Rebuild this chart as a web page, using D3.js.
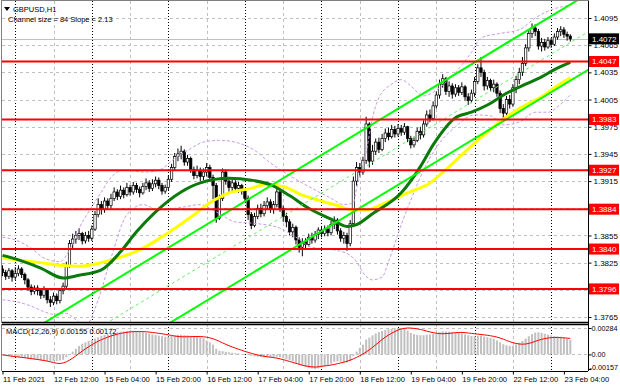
<!DOCTYPE html>
<html>
<head>
<meta charset="utf-8">
<script src="https://cdn.jsdelivr.net/npm/d3@7"></script>
<style>
  body { margin: 0; background: #fff; }
  svg { display: block; font-family: "Liberation Sans", Arial, sans-serif; }
</style>
</head>
<body>
<svg id="chart" width="620" height="388"></svg>
<script>
// GBPUSD H1, 11 Feb 20:00 .. 23 Feb 06:00, one value per bar
var symbol = 'GBPUSD,H1';
var firstOpen = 1.3818;
var closes = [
  1.3814,1.3810,1.3816,1.3809,1.3813,1.3818,1.3812,1.3806,1.3798,1.3793,
  1.3797,1.3794,1.3789,1.3795,1.3784,1.3781,1.3788,1.3783,1.3794,1.3799,
  1.3822,1.3846,1.3851,1.3855,1.3857,1.3849,1.3855,1.3852,1.3862,1.3878,
  1.3889,1.3884,1.3893,1.3888,1.3896,1.3903,1.3898,1.3905,1.3900,1.3908,
  1.3903,1.3910,1.3906,1.3902,1.3909,1.3913,1.3907,1.3912,1.3916,1.3910,
  1.3904,1.3908,1.3917,1.3930,1.3942,1.3945,1.3948,1.3936,1.3940,1.3928,
  1.3921,1.3927,1.3920,1.3925,1.3930,1.3919,1.3910,1.3874,1.3896,1.3925,
  1.3915,1.3908,1.3913,1.3907,1.3910,1.3904,1.3896,1.3878,1.3866,1.3876,
  1.3885,1.3879,1.3888,1.3892,1.3884,1.3889,1.3903,1.3885,1.3876,1.3870,
  1.3859,1.3864,1.3850,1.3842,1.3848,1.3845,1.3853,1.3850,1.3856,1.3861,
  1.3857,1.3862,1.3858,1.3867,1.3872,1.3860,1.3852,1.3855,1.3846,1.3868,
  1.3915,1.3930,1.3925,1.3938,1.3978,1.3937,1.3948,1.3958,1.3950,1.3962,
  1.3968,1.3964,1.3972,1.3967,1.3973,1.3969,1.3975,1.3962,1.3955,1.3960,
  1.3970,1.3966,1.3978,1.3988,1.3984,1.3998,1.4010,1.4022,1.4028,1.4014,
  1.4020,1.4011,1.4018,1.4013,1.4019,1.4008,1.4004,1.4012,1.4025,1.4040,
  1.4035,1.4020,1.4026,1.4018,1.4022,1.4012,1.3995,1.3990,1.4005,1.4000,
  1.4018,1.4027,1.4035,1.4045,1.4062,1.4078,1.4084,1.4080,1.4064,1.4068,
  1.4063,1.4070,1.4066,1.4074,1.4080,1.4082,1.4077,1.4075,1.4072
];
var highs = [
  1.3822,1.3817,1.3819,1.3818,1.3820,1.3822,1.3820,1.3814,1.3808,1.3801,
  1.3800,1.3800,1.3797,1.3799,1.3796,1.3788,1.3792,1.3791,1.3797,1.3803,
  1.3826,1.3850,1.3857,1.3860,1.3863,1.3859,1.3859,1.3860,1.3866,1.3882,
  1.3896,1.3893,1.3897,1.3896,1.3901,1.3908,1.3906,1.3910,1.3908,1.3913,
  1.3911,1.3914,1.3913,1.3909,1.3913,1.3918,1.3916,1.3917,1.3920,1.3919,
  1.3913,1.3911,1.3921,1.3934,1.3946,1.3951,1.3954,1.3950,1.3944,1.3942,
  1.3931,1.3932,1.3930,1.3929,1.3935,1.3933,1.3922,1.3913,1.3900,1.3929,
  1.3928,1.3918,1.3917,1.3916,1.3914,1.3912,1.3907,1.3899,1.3881,1.3880,
  1.3889,1.3890,1.3893,1.3897,1.3895,1.3893,1.3908,1.3905,1.3888,1.3880,
  1.3873,1.3868,1.3866,1.3853,1.3852,1.3852,1.3857,1.3858,1.3860,1.3864,
  1.3865,1.3866,1.3866,1.3871,1.3876,1.3874,1.3863,1.3859,1.3858,1.3872,
  1.3920,1.3936,1.3935,1.3942,1.3986,1.3980,1.3955,1.3962,1.3963,1.3967,
  1.3973,1.3974,1.3977,1.3976,1.3978,1.3977,1.3979,1.3976,1.3965,1.3964,
  1.3974,1.3975,1.3982,1.3993,1.3994,1.4003,1.4014,1.4027,1.4033,1.4030,
  1.4025,1.4023,1.4022,1.4021,1.4024,1.4021,1.4012,1.4016,1.4030,1.4044,
  1.4052,1.4038,1.4030,1.4028,1.4027,1.4024,1.4015,1.4000,1.4009,1.4010,
  1.4022,1.4031,1.4040,1.4052,1.4066,1.4082,1.4089,1.4088,1.4083,1.4073,
  1.4072,1.4074,1.4073,1.4078,1.4084,1.4086,1.4085,1.4080,1.4077
];
var lows = [
  1.3810,1.3806,1.3807,1.3804,1.3806,1.3810,1.3808,1.3801,1.3794,1.3789,
  1.3790,1.3789,1.3785,1.3786,1.3780,1.3776,1.3778,1.3779,1.3780,1.3790,
  1.3796,1.3819,1.3841,1.3846,1.3850,1.3845,1.3846,1.3848,1.3849,1.3860,
  1.3875,1.3878,1.3880,1.3884,1.3885,1.3893,1.3894,1.3895,1.3896,1.3898,
  1.3899,1.3900,1.3902,1.3897,1.3900,1.3905,1.3903,1.3904,1.3908,1.3906,
  1.3900,1.3901,1.3905,1.3914,1.3927,1.3937,1.3939,1.3932,1.3932,1.3924,
  1.3917,1.3918,1.3915,1.3916,1.3920,1.3914,1.3895,1.3869,1.3872,1.3893,
  1.3911,1.3903,1.3904,1.3903,1.3902,1.3900,1.3892,1.3872,1.3862,1.3864,
  1.3873,1.3875,1.3876,1.3884,1.3880,1.3879,1.3886,1.3881,1.3870,1.3864,
  1.3855,1.3853,1.3845,1.3836,1.3832,1.3840,1.3843,1.3846,1.3847,1.3851,
  1.3853,1.3854,1.3854,1.3855,1.3862,1.3856,1.3848,1.3846,1.3838,1.3843,
  1.3865,1.3910,1.3920,1.3922,1.3934,1.3930,1.3933,1.3944,1.3946,1.3948,
  1.3958,1.3960,1.3962,1.3963,1.3964,1.3965,1.3966,1.3958,1.3951,1.3952,
  1.3958,1.3961,1.3963,1.3975,1.3980,1.3982,1.3995,1.4006,1.4018,1.4010,
  1.4008,1.4006,1.4008,1.4009,1.4010,1.4004,1.3999,1.4001,1.4008,1.4022,
  1.4030,1.4015,1.4016,1.4014,1.4013,1.4008,1.3990,1.3982,1.3986,1.3995,
  1.3997,1.4012,1.4022,1.4031,1.4042,1.4058,1.4073,1.4075,1.4060,1.4058,
  1.4059,1.4061,1.4062,1.4064,1.4071,1.4075,1.4073,1.4070,1.4069
];

// moving averages and bands as [bar, price]
var maFast = [[0,1.3833],[5,1.3828],[12,1.3819],[19,1.3808],[24,1.3811],[31,1.3817],
  [37,1.3837],[42,1.3859],[48,1.3881],[56,1.3903],[62,1.3913],[71,1.3918],[78,1.3916],
  [84,1.3911],[90,1.3899],[96,1.3885],[103,1.3873],[108,1.3865],[111,1.3867],[116,1.3879],
  [125,1.3902],[131,1.3931],[135,1.3955],[142,1.3985],[147,1.3991],[152,1.3999],
  [158,1.4012],[164,1.4022],[169,1.4030],[173,1.4038],[178,1.4046]];
var maSlow = [[0,1.3830],[5,1.3828],[12,1.3825],[18,1.3822],[24,1.3821],[31,1.3825],
  [37,1.3831],[43,1.3839],[48,1.3849],[52,1.3858],[59,1.3875],[65,1.3891],[71,1.3902],
  [78,1.3907],[82,1.3911],[88,1.3909],[93,1.3901],[99,1.3894],[105,1.3888],[110,1.3883],
  [114,1.3883],[118,1.3888],[127,1.3902],[134,1.3913],[140,1.3931],[148,1.3957],
  [154,1.3975],[158,1.3986],[164,1.3999],[169,1.4008],[173,1.4018],[178,1.4029]];
var bandUpper = [[0,1.3853],[4,1.3850],[9,1.3841],[13,1.3830],[18,1.3826],[21,1.3839],
  [24,1.3863],[27,1.3881],[31,1.3903],[34,1.3919],[38,1.3927],[45,1.3925],[49,1.3927],
  [54,1.3940],[59,1.3951],[63,1.3958],[68,1.3960],[74,1.3957],[79,1.3949],[84,1.3935],
  [90,1.3921],[96,1.3909],[103,1.3896],[107,1.3889],[110,1.3891],[111,1.3907],
  [114,1.3947],[116,1.3985],[118,1.4007],[122,1.4022],[125,1.4027],[128,1.4020],
  [132,1.4009],[137,1.4018],[142,1.4035],[147,1.4057],[150,1.4073],[156,1.4078],
  [162,1.4082],[167,1.4095],[172,1.4104],[178,1.4109]];
var bandLower = [[0,1.3784],[4,1.3782],[9,1.3777],[13,1.3771],[16,1.3768],[20,1.3769],
  [23,1.3762],[26,1.3755],[30,1.3784],[34,1.3830],[39,1.3878],[44,1.3889],[49,1.3883],
  [56,1.3886],[62,1.3889],[67,1.3881],[73,1.3870],[80,1.3868],[87,1.3863],[92,1.3853],
  [97,1.3842],[104,1.3839],[108,1.3835],[111,1.3826],[113,1.3814],[116,1.3806],
  [119,1.3809],[121,1.3826],[125,1.3867],[128,1.3894],[132,1.3927],[137,1.3957],
  [142,1.3975],[148,1.3988],[153,1.3987],[157,1.3977],[162,1.3980],[167,1.3991],
  [171,1.3991],[175,1.4000],[178,1.4010]];

// MACD(12,26,9): main values (histogram) and signal, one per bar
var macdMain = [
  -0.00010,-0.00014,-0.00018,-0.00022,-0.00026,-0.00030,-0.00034,-0.00040,-0.00046,-0.00052,
  -0.00056,-0.00060,-0.00064,-0.00066,-0.00070,-0.00074,-0.00074,-0.00072,-0.00066,-0.00058,
  -0.00030,0.00000,0.00030,0.00060,0.00090,0.00115,0.00130,0.00145,0.00155,0.00170,
  0.00185,0.00198,0.00210,0.00220,0.00228,0.00235,0.00240,0.00244,0.00247,0.00250,
  0.00250,0.00250,0.00248,0.00244,0.00238,0.00230,0.00222,0.00214,0.00208,0.00202,
  0.00196,0.00190,0.00192,0.00198,0.00205,0.00210,0.00212,0.00208,0.00205,0.00200,
  0.00195,0.00190,0.00182,0.00175,0.00150,0.00130,0.00105,0.00060,0.00040,0.00035,
  0.00028,0.00022,0.00018,0.00014,0.00010,0.00005,0.00000,-0.00008,-0.00015,-0.00022,
  -0.00025,-0.00028,-0.00030,-0.00030,-0.00032,-0.00032,-0.00025,-0.00030,-0.00040,-0.00052,
  -0.00065,-0.00075,-0.00090,-0.00105,-0.00120,-0.00135,-0.00145,-0.00152,-0.00157,-0.00150,
  -0.00140,-0.00128,-0.00115,-0.00100,-0.00080,-0.00075,-0.00078,-0.00082,-0.00088,-0.00070,
  -0.00020,0.00030,0.00070,0.00105,0.00160,0.00180,0.00205,0.00225,0.00240,0.00252,
  0.00262,0.00270,0.00276,0.00280,0.00284,0.00282,0.00276,0.00255,0.00232,0.00218,
  0.00210,0.00206,0.00206,0.00212,0.00214,0.00220,0.00228,0.00238,0.00248,0.00246,
  0.00244,0.00240,0.00236,0.00230,0.00224,0.00216,0.00206,0.00198,0.00196,0.00200,
  0.00200,0.00192,0.00184,0.00176,0.00168,0.00150,0.00130,0.00110,0.00098,0.00092,
  0.00095,0.00108,0.00125,0.00145,0.00170,0.00195,0.00218,0.00235,0.00238,0.00232,
  0.00222,0.00212,0.00204,0.00198,0.00194,0.00190,0.00180,0.00168,0.00155
];
var macdSignal = [
  -0.00005,-0.00010,-0.00015,-0.00020,-0.00024,-0.00028,-0.00032,-0.00036,-0.00040,-0.00045,
  -0.00050,-0.00055,-0.00060,-0.00066,-0.00072,-0.00080,-0.00088,-0.00095,-0.00098,-0.00092,
  -0.00080,-0.00062,-0.00040,-0.00016,0.00010,0.00036,0.00060,0.00082,0.00104,0.00124,
  0.00142,0.00158,0.00172,0.00186,0.00198,0.00208,0.00218,0.00226,0.00232,0.00238,
  0.00242,0.00245,0.00246,0.00246,0.00245,0.00243,0.00240,0.00236,0.00232,0.00227,
  0.00222,0.00216,0.00210,0.00204,0.00198,0.00193,0.00190,0.00190,0.00190,0.00191,
  0.00192,0.00192,0.00192,0.00190,0.00185,0.00178,0.00168,0.00155,0.00140,0.00124,
  0.00108,0.00094,0.00080,0.00068,0.00056,0.00044,0.00032,0.00022,0.00012,0.00002,
  -0.00006,-0.00014,-0.00020,-0.00026,-0.00030,-0.00035,-0.00040,-0.00048,-0.00056,-0.00066,
  -0.00076,-0.00086,-0.00096,-0.00106,-0.00116,-0.00124,-0.00130,-0.00134,-0.00136,-0.00134,
  -0.00128,-0.00124,-0.00120,-0.00114,-0.00108,-0.00100,-0.00092,-0.00084,-0.00074,-0.00062,
  -0.00048,-0.00032,-0.00014,0.00004,0.00026,0.00050,0.00076,0.00104,0.00132,0.00160,
  0.00186,0.00208,0.00228,0.00246,0.00262,0.00274,0.00280,0.00284,0.00283,0.00280,
  0.00275,0.00268,0.00260,0.00250,0.00242,0.00234,0.00228,0.00224,0.00222,0.00224,
  0.00226,0.00230,0.00234,0.00236,0.00236,0.00234,0.00230,0.00226,0.00222,0.00218,
  0.00214,0.00210,0.00206,0.00200,0.00194,0.00186,0.00176,0.00164,0.00150,0.00138,
  0.00126,0.00118,0.00112,0.00110,0.00112,0.00118,0.00128,0.00140,0.00152,0.00162,
  0.00170,0.00176,0.00180,0.00182,0.00182,0.00180,0.00178,0.00175,0.00172
];

var levels = [1.4047, 1.3983, 1.3927, 1.3884, 1.3840, 1.3796];
var bidPrice = 1.4072;
var channelBar = 56, channelUpper = 1.3850, channelSlope = 0.000213, channelSize = 0.0084;

var priceTicks = [1.4095, 1.4065, 1.4035, 1.4005, 1.3975, 1.3945, 1.3915, 1.3885, 1.3855, 1.3825, 1.3795, 1.3765];
var macdTicks = [0.00284, 0, -0.00157];
var macdTickLabels = ['0.00284', '0.00', '-0.00157'];
var timeTickBars = [0, 16, 32, 48, 64, 80, 96, 112, 128, 144, 160, 176];
var timeLabels = ['11 Feb 2021', '12 Feb 12:00', '15 Feb 04:00', '15 Feb 20:00', '16 Feb 12:00',
  '17 Feb 04:00', '17 Feb 20:00', '18 Feb 12:00', '19 Feb 04:00', '19 Feb 20:00',
  '22 Feb 12:00', '23 Feb 04:00'];
var daySepBars = [4, 28, 52, 76, 100, 124, 148, 172];
var gridBars = [16, 40, 64, 88, 112, 136, 160];

var left = 2, right = 588,
    mainTop = 1, mainBottom = 322,
    macdTop = 324, macdBottom = 371;

var svg = d3.select('#chart');

var x = d3.scaleLinear().domain([0, 178]).range([2.5, 570.3]);
var y = d3.scaleLinear().domain([1.3765, 1.4095]).range([317, 18]);
var ym = d3.scaleLinear().domain([-0.00157, 0.00284]).range([369, 328]);

var defs = svg.append('defs');
defs.append('clipPath').attr('id', 'clipMain')
  .append('rect').attr('x', left).attr('y', mainTop).attr('width', right - left).attr('height', mainBottom - mainTop);
defs.append('clipPath').attr('id', 'clipMacd')
  .append('rect').attr('x', left).attr('y', macdTop).attr('width', right - left).attr('height', macdBottom - macdTop);

svg.append('rect').attr('width', 620).attr('height', 388).attr('fill', '#fff');

var main = svg.append('g').attr('clip-path', 'url(#clipMain)');
var sub = svg.append('g').attr('clip-path', 'url(#clipMacd)');

// grid
[main, sub].forEach(function(g, k) {
  var t = k ? macdTop : mainTop, b = k ? macdBottom : mainBottom;
  g.selectAll('.vgrid').data(gridBars).enter().append('line')
    .attr('x1', function(d) { return Math.round(x(d)) + 0.5; })
    .attr('x2', function(d) { return Math.round(x(d)) + 0.5; })
    .attr('y1', t).attr('y2', b)
    .attr('stroke', '#c0c0c0').attr('stroke-dasharray', '3,3');
  g.selectAll('.vsep').data(daySepBars).enter().append('line')
    .attr('x1', function(d) { return Math.round(x(d)) + 0.5; })
    .attr('x2', function(d) { return Math.round(x(d)) + 0.5; })
    .attr('y1', t).attr('y2', b)
    .attr('stroke', '#000').attr('stroke-dasharray', '1,2');
});
main.selectAll('.hgrid').data(priceTicks).enter().append('line')
  .attr('x1', left).attr('x2', right)
  .attr('y1', function(d) { return Math.round(y(d)) + 0.5; })
  .attr('y2', function(d) { return Math.round(y(d)) + 0.5; })
  .attr('stroke', '#c0c0c0').attr('stroke-dasharray', '3,3');
sub.selectAll('.hgrid').data(macdTicks.slice(0, 2)).enter().append('line')
  .attr('x1', left).attr('x2', right)
  .attr('y1', function(d) { return Math.round(ym(d)) + 0.5; })
  .attr('y2', function(d) { return Math.round(ym(d)) + 0.5; })
  .attr('stroke', '#c0c0c0').attr('stroke-dasharray', '3,3');

// bid line
main.append('line').attr('x1', left).attr('x2', right)
  .attr('y1', Math.round(y(bidPrice)) + 0.5).attr('y2', Math.round(y(bidPrice)) + 0.5)
  .attr('stroke', '#c0c0c0');

// candles
var bars = closes.map(function(c, i) {
  return {i: i, o: i ? closes[i - 1] : firstOpen, h: highs[i], l: lows[i], c: c};
});
var candle = main.selectAll('.candle').data(bars).enter().append('g');
candle.append('line')
  .attr('x1', function(d) { return x(d.i); }).attr('x2', function(d) { return x(d.i); })
  .attr('y1', function(d) { return y(d.h); }).attr('y2', function(d) { return y(d.l); })
  .attr('stroke', '#000').attr('stroke-width', 1);
candle.append('rect')
  .attr('x', function(d) { return x(d.i) - 1.2; })
  .attr('width', 2.4)
  .attr('y', function(d) { return y(Math.max(d.o, d.c)); })
  .attr('height', function(d) { return Math.max(0.8, Math.abs(y(d.o) - y(d.c))); })
  .attr('fill', function(d) { return d.c >= d.o ? '#fff' : '#000'; })
  .attr('stroke', '#000').attr('stroke-width', 0.7);

var line = d3.line()
  .x(function(d) { return x(d[0]); })
  .y(function(d) { return y(d[1]); })
  .curve(d3.curveMonotoneX);

// bands
[bandUpper, bandLower].forEach(function(b) {
  main.append('path').attr('d', line(b))
    .attr('fill', 'none').attr('stroke', '#c79be6').attr('stroke-width', 1)
    .attr('stroke-dasharray', '3,2');
});

// moving averages
main.append('path').attr('d', line(maSlow))
  .attr('fill', 'none').attr('stroke', '#ffff00').attr('stroke-width', 3);
main.append('path').attr('d', line(maFast))
  .attr('fill', 'none').attr('stroke', '#0a7a0a').attr('stroke-width', 3);

// channel
var chX = [0, 184];
function chPrice(b, off) { return channelUpper + channelSlope * (b - channelBar) - off; }
[[0, '#00ff00', null, 2], [channelSize / 2, '#66ee66', '3,3', 1], [channelSize, '#00ff00', null, 2]].forEach(function(c) {
  main.append('line')
    .attr('x1', x(chX[0])).attr('x2', x(chX[1]))
    .attr('y1', y(chPrice(chX[0], c[0]))).attr('y2', y(chPrice(chX[1], c[0])))
    .attr('stroke', c[1]).attr('stroke-width', c[3])
    .attr('stroke-dasharray', c[2]);
});

// horizontal levels
main.selectAll('.level').data(levels).enter().append('line')
  .attr('x1', left).attr('x2', right)
  .attr('y1', function(d) { return y(d); }).attr('y2', function(d) { return y(d); })
  .attr('stroke', '#ff0000').attr('stroke-width', 2);

// MACD
sub.selectAll('.hist').data(macdMain).enter().append('rect')
  .attr('x', function(d, i) { return x(i) - 1; })
  .attr('width', 2)
  .attr('y', function(d) { return Math.min(ym(d), ym(0)); })
  .attr('height', function(d) { return Math.abs(ym(d) - ym(0)); })
  .attr('fill', '#c0c0c0');
sub.append('path')
  .attr('d', d3.line().x(function(d, i) { return x(i); }).y(function(d) { return ym(d); })(macdSignal))
  .attr('fill', 'none').attr('stroke', '#ff0000').attr('stroke-width', 1);

// frames
svg.append('rect').attr('x', left - 0.5).attr('y', mainTop - 0.5)
  .attr('width', right - left + 1).attr('height', mainBottom - mainTop + 1)
  .attr('fill', 'none').attr('stroke', '#808080');
svg.append('line').attr('x1', left).attr('x2', right).attr('y1', mainBottom + 0.5).attr('y2', mainBottom + 0.5)
  .attr('stroke', '#000').attr('stroke-width', 1.5);
svg.append('line').attr('x1', left).attr('x2', right).attr('y1', macdTop + 0.5).attr('y2', macdTop + 0.5)
  .attr('stroke', '#000').attr('stroke-width', 1.5);
svg.append('line').attr('x1', left).attr('x2', right).attr('y1', macdBottom + 0.5).attr('y2', macdBottom + 0.5)
  .attr('stroke', '#000');
svg.append('line').attr('x1', left - 0.5).attr('x2', left - 0.5).attr('y1', macdTop).attr('y2', macdBottom)
  .attr('stroke', '#808080');

// price axis
var yAxis = d3.axisRight(y).tickValues(priceTicks).tickSize(3).tickPadding(2)
  .tickFormat(d3.format('.4f'));
var gy = svg.append('g').attr('transform', 'translate(' + (right + 0.5) + ',0)').call(yAxis);
gy.select('.domain').attr('d', 'M0,' + mainTop + 'V' + macdBottom).attr('stroke', '#000');
gy.selectAll('text').attr('font-size', 8).attr('fill', '#000')
  .attr('font-family', '"Liberation Sans", Arial, sans-serif');
gy.selectAll('line').attr('stroke', '#000');

var mAxis = d3.axisRight(ym).tickValues(macdTicks).tickSize(3).tickPadding(0)
  .tickFormat(function(d, i) { return macdTickLabels[i]; });
var gm = svg.append('g').attr('transform', 'translate(' + (right + 0.5) + ',0)').call(mAxis);
gm.select('.domain').remove();
gm.selectAll('text').attr('font-size', 7.2).attr('fill', '#000')
  .attr('font-family', '"Liberation Sans", Arial, sans-serif');
gm.selectAll('.tick').filter(function(d) { return d < 0; }).select('text')
  .attr('x', 1).attr('dy', '0.05em');
gm.selectAll('line').attr('stroke', '#000');

// level labels
function priceBox(p, fill) {
  var g = svg.append('g').attr('transform', 'translate(' + (right + 1) + ',' + y(p) + ')');
  g.append('rect').attr('x', 0).attr('y', -5.5).attr('width', 30).attr('height', 11).attr('fill', fill);
  g.append('text').attr('x', 3).attr('y', 3).attr('font-size', 8).attr('fill', '#fff')
    .text(d3.format('.4f')(p));
}
levels.forEach(function(p) { priceBox(p, '#ff0000'); });
priceBox(bidPrice, '#000');

// time axis
var xAxis = d3.axisBottom(x).tickValues(timeTickBars).tickSize(3).tickPadding(2)
  .tickFormat(function(d, i) { return timeLabels[i]; });
var gx = svg.append('g').attr('transform', 'translate(0,' + (macdBottom + 0.5) + ')').call(xAxis);
gx.select('.domain').remove();
gx.selectAll('line').attr('stroke', '#000');
gx.selectAll('text').attr('text-anchor', 'start').attr('x', 0).attr('font-size', 7.6)
  .attr('fill', '#000').attr('font-family', '"Liberation Sans", Arial, sans-serif');

// titles
svg.append('path').attr('d', 'M4,7 L10,7 L7,11 Z').attr('fill', '#000');
svg.append('text').attr('x', 13).attr('y', 12).attr('font-size', 7.5).text(symbol);
svg.append('text').attr('x', 8).attr('y', 22).attr('font-size', 7.5)
  .text('Channel size = ' + Math.round(channelSize * 10000) + ' Slope = ' + (channelSlope * 10000).toFixed(2));
svg.append('text').attr('x', 6).attr('y', 334).attr('font-size', 7.5)
  .text('MACD(12,26,9) ' + macdMain[macdMain.length - 1].toFixed(5) + ' ' + macdSignal[macdSignal.length - 1].toFixed(5));
</script>
</body>
</html>
